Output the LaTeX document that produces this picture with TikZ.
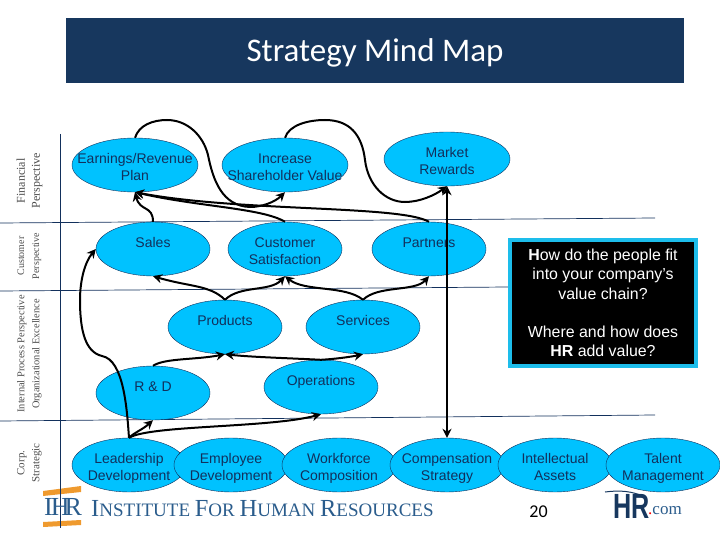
\documentclass[tikz,border=0pt]{standalone}
\usepackage{fontspec}
\usetikzlibrary{shapes.geometric, arrows.meta}
\setmainfont{Liberation Sans}
\newfontfamily\titlefont{Carlito}
\newfontfamily\bookfont{Liberation Serif}
\newcommand{\sizedfont}[1]{\fontsize{#1}{#1}\selectfont}
\definecolor{titleblue}{HTML}{17375E}
\definecolor{ovalblue}{HTML}{00C2FF}
\definecolor{inkblue}{HTML}{12305C}
\definecolor{frameblue}{HTML}{1DBDEB}
\definecolor{logoblue}{HTML}{2A5C8C}
\definecolor{logoorange}{HTML}{EF9A2E}
\tikzset{
	goal/.style={draw=inkblue, ellipse, fill=ovalblue, inner sep=0pt, minimum width=114pt, minimum height=54pt},
	widegoal/.style={goal, minimum width=126pt},
	every label/.style={align=center, text=inkblue, inner sep=0pt, text depth=0pt, yshift=-2pt, font=\fontsize{14}{17}\selectfont},
	link/.style={->, >={Stealth[length=9pt, width=9pt]}, black, line width=2pt},
	divider/.style={draw=inkblue, line width=0.7pt},
	sidetext/.style={rotate=90, align=center, text=black!70, inner sep=0pt}
}
\begin{document}
\begin{tikzpicture}[x=1pt, y=-1pt]
	\useasboundingbox (0,0) rectangle (720,540);
	% title band
	\node[fill=titleblue, minimum width=618pt, minimum height=65pt, inner sep=0pt, text=white, font=\titlefont\sizedfont{33}] (banner)at(375, 50.5) {\raisebox{-11.5pt}[0pt][0pt]{Strategy Mind Map}};
	% rows of the map
	\draw[divider] (0, 223) -- (655, 218);
	\draw[divider] (0, 291) -- (508, 287);
	\draw[divider] (0, 421) -- (655, 415);
	% logo bars sit under the column rule
	\fill[logoorange] (43, 491) -- (81, 486) -- (81, 492) -- (43, 496) -- cycle;
	\fill[logoorange] (43, 522) -- (81, 520) -- (81, 525) -- (43, 527) -- cycle;
	\draw[divider] (60.5, 134) -- (60.5, 528);
	\node[sidetext, font=\bookfont\fontsize{12}{15}\selectfont] (financial)at(29.5, 181) {Financial\\Perspective};
	\node[sidetext, font=\bookfont\fontsize{10}{15}\selectfont] (customer)at(29.5, 256) {Customer\\Perspective};
	\node[sidetext, font=\bookfont\fontsize{10.4}{15}\selectfont] (internal)at(29.5, 354) {Internal Process Perspective\\Organizational Excellence};
	\node[sidetext, font=\bookfont\fontsize{11}{15}\selectfont] (corp)at(29.5, 463) {Corp.\\Strategic};
	% ovals
	\node[widegoal, label=center:{Earnings/Revenue\\Plan}] (earnings)at(135, 165) {};
	\node[widegoal, label=center:{Increase\\Shareholder Value}] (increase)at(285, 165) {};
	\node[widegoal, label=center:{Market\\Rewards}] (market)at(447, 159) {};
	\node[goal, label=center:{Sales\\~}] (sales)at(153, 249) {};
	\node[goal, label=center:{Customer\\Satisfaction}] (satisfaction)at(285, 249) {};
	\node[goal, label=center:{Partners\\~}] (partners)at(429, 249) {};
	\node[goal, label=center:{Products\\~}] (products)at(225, 327) {};
	\node[goal, label=center:{Services\\~}] (services)at(363, 327) {};
	\node[goal, label=center:{R \& D\\~}] (rd)at(153, 393) {};
	\node[goal, label=center:{Operations\\~}] (operations)at(321, 387) {};
	\node[goal, label=center:{Leadership\\Development}] (leadership)at(129, 465) {};
	\node[goal, label=center:{Employee\\Development}] (employee)at(231, 465) {};
	\node[goal, label=center:{Workforce\\Composition}] (workforce)at(339, 465) {};
	\node[goal, label=center:{Compensation\\Strategy}] (compensation)at(447, 465) {};
	\node[goal, label=center:{Intellectual\\Assets}] (intellectual)at(555, 465) {};
	\node[goal, label=center:{Talent\\Management}] (talent)at(663, 465) {};
	% links
	\draw[link] (earnings.north) .. controls (139, 125) and (153, 120) .. (167, 120) .. controls (187, 120) and (203, 135) .. (208, 155) .. controls (213, 180) and (222, 206) .. (250, 207) .. controls (262, 207) and (275, 202) .. (increase.south);
	\draw[link] (increase.north) .. controls (289, 125) and (308, 120) .. (325, 120) .. controls (350, 120) and (362, 135) .. (365, 160) .. controls (368, 185) and (385, 202) .. (405, 202) .. controls (420, 202) and (435, 195) .. (market.south);
	\draw[link] (sales.north) .. controls (153, 205) and (140, 212) .. (earnings.south);
	\draw[link] (satisfaction.north) .. controls (262, 208) and (200, 207) .. (earnings.south);
	\draw[link] (partners.north) .. controls (400, 205) and (240, 212) .. (earnings.south);
	\draw[link] (products.north) .. controls (210, 285) and (190, 287) .. (sales.south);
	\draw[link] (products.north) .. controls (240, 285) and (270, 292) .. (satisfaction.south);
	\draw[link] (services.north) .. controls (345, 285) and (305, 292) .. (satisfaction.south);
	\draw[link] (services.north) .. controls (378, 285) and (415, 292) .. (partners.south);
	\draw[link] (rd.north) .. controls (165, 358) and (195, 360) .. (products.south);
	\draw[link] (operations.north) .. controls (285, 358) and (250, 357) .. (products.south);
	\draw[link] (operations.north) .. controls (335, 359) and (350, 357) .. (services.south);
	\draw[link] (leadership.north) .. controls (135, 432) and (142, 430) .. (rd.south);
	\draw[link] (leadership.north) .. controls (150, 425) and (270, 428) .. (operations.south);
	\draw[link] (leadership.north) .. controls (127, 410) and (124, 360) .. (102, 356) .. controls (85, 352) and (80, 330) .. (80, 300) .. controls (80, 280) and (85, 262) .. (sales.west);
	\draw[link, <->] (market.south) -- (compensation.north);
	% question box
	\node[draw=frameblue, line width=4pt, fill=black, minimum width=186pt, minimum height=126pt, inner sep=0pt, align=center, text=white, font=\fontsize{15.9}{19.3}\selectfont] (question)at(603, 303) {\textbf{H}ow do the people fit\\into your company's\\value chain?\\~\\Where and how does\\\textbf{HR} add value?};
	% footer
	\node[text=logoblue, inner sep=0pt, font=\bookfont\sizedfont{26}] (ihr)at(63, 507) {I\kern-2ptH\kern-5ptR};
	\node[anchor=west, text=logoblue, inner sep=0pt, font=\bookfont\sizedfont{19}] (institute)at(91, 509) {{\sizedfont{24.5}I}NSTITUTE {\sizedfont{24.5}F}OR {\sizedfont{24.5}H}UMAN {\sizedfont{24.5}R}ESOURCES};
	\node[inner sep=0pt, font=\titlefont\sizedfont{18}] (page)at(538.5, 512) {20};
	\node[anchor=west, xscale=0.72, text=titleblue, inner sep=0pt, font=\bfseries\sizedfont{35}] (hr)at(613, 506) {HR};
	\node[anchor=west, text=logoblue, inner sep=0pt, font=\bookfont\sizedfont{17}] (com)at(648, 511) {\textcolor{red}{.}com};
	\draw[titleblue, line width=1pt] (605, 492) .. controls (620, 490) and (632, 491) .. (645, 497);
\end{tikzpicture}
\end{document}
